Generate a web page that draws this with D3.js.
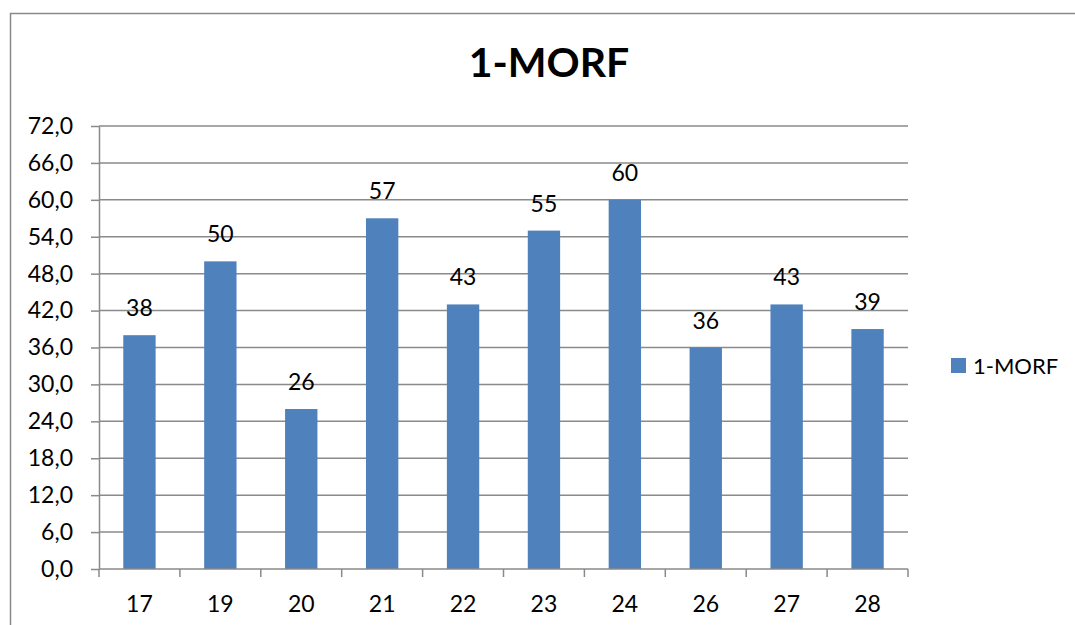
<!DOCTYPE html>
<html>
<head>
<meta charset="utf-8">
<script src="https://cdn.jsdelivr.net/npm/d3@7"></script>
<style>
  html, body { margin: 0; padding: 0; background: #fff; }
  svg { display: block; }
  text { font-family: Lato, "Open Sans", sans-serif; fill: #000; }
</style>
</head>
<body>
<script>
// Chart data
const categories = ["17", "19", "20", "21", "22", "23", "24", "26", "27", "28"];
const values = [38, 50, 26, 57, 43, 55, 60, 36, 43, 39];
const seriesName = "1-MORF";
const yTicks = [0, 6, 12, 18, 24, 30, 36, 42, 48, 54, 60, 66, 72];

const W = 1075, H = 625;
const plot = { left: 99, right: 908, top: 126, bottom: 569 };
const barColor = "#4F81BD";
const gridColor = "#8a8a8a";
const labelSize = 23;

const svg = d3.select("body").append("svg")
  .attr("width", W).attr("height", H);

// Outer chart frame
svg.append("rect")
  .attr("x", 10.5).attr("y", 13.5)
  .attr("width", 1100).attr("height", 700)
  .attr("fill", "#fff")
  .attr("stroke", "#8a8a8a").attr("stroke-width", 1.5);

const x = d3.scaleBand()
  .domain(categories)
  .range([plot.left, plot.right])
  .paddingInner(0.6).paddingOuter(0.3);

const y = d3.scaleLinear()
  .domain([0, 72])
  .range([plot.bottom, plot.top]);

const fmt = d => d.toFixed(1).replace(".", ",");

// Horizontal gridlines
svg.append("g")
  .selectAll("line")
  .data(yTicks.filter(t => t > 0))
  .join("line")
  .attr("x1", plot.left).attr("x2", plot.right)
  .attr("y1", d => y(d)).attr("y2", d => y(d))
  .attr("stroke", gridColor).attr("stroke-width", 1.5);

// Y axis
const yAxis = svg.append("g")
  .attr("transform", `translate(${plot.left},0)`)
  .call(d3.axisLeft(y).tickValues(yTicks).tickFormat(fmt).tickSize(8).tickSizeOuter(0).tickPadding(18));
yAxis.select(".domain").attr("stroke", gridColor).attr("stroke-width", 1.5);
yAxis.selectAll(".tick line").attr("stroke", gridColor).attr("stroke-width", 1.5);
yAxis.selectAll(".tick text")
  .attr("font-size", labelSize).attr("font-family", "Lato, sans-serif").attr("fill", "#000");

// Bars
svg.append("g")
  .selectAll("rect")
  .data(values)
  .join("rect")
  .attr("x", (d, i) => x(categories[i]))
  .attr("width", x.bandwidth())
  .attr("y", d => y(d))
  .attr("height", d => y(0) - y(d))
  .attr("fill", barColor);

// X axis with boundary ticks between categories
const boundaries = d3.range(categories.length + 1).map(i => plot.left + i * (plot.right - plot.left) / categories.length);
const xg = svg.append("g");
xg.append("line")
  .attr("x1", plot.left).attr("x2", plot.right)
  .attr("y1", plot.bottom).attr("y2", plot.bottom)
  .attr("stroke", gridColor).attr("stroke-width", 1.5);
xg.selectAll("line.tk")
  .data(boundaries)
  .join("line")
  .attr("class", "tk")
  .attr("x1", d => d).attr("x2", d => d)
  .attr("y1", plot.bottom).attr("y2", plot.bottom + 8)
  .attr("stroke", gridColor).attr("stroke-width", 1.5);
xg.selectAll("text")
  .data(categories)
  .join("text")
  .attr("x", d => x(d) + x.bandwidth() / 2)
  .attr("y", 612)
  .attr("text-anchor", "middle")
  .attr("font-size", labelSize)
  .text(d => d);

// Value labels
svg.append("g")
  .selectAll("text")
  .data(values)
  .join("text")
  .attr("x", (d, i) => x(categories[i]) + x.bandwidth() / 2)
  .attr("y", d => y(d) - 19)
  .attr("text-anchor", "middle")
  .attr("font-size", labelSize)
  .text(d => d);

// Title
svg.append("text")
  .attr("x", 549).attr("y", 77)
  .attr("text-anchor", "middle")
  .attr("font-size", 41)
  .attr("font-weight", 700)
  .text(seriesName);

// Legend
const lg = svg.append("g").attr("transform", "translate(951,358)");
lg.append("rect").attr("width", 15).attr("height", 15).attr("fill", barColor);
lg.append("text")
  .attr("x", 22).attr("y", 15.5)
  .attr("font-size", 22)
  .text(seriesName);
</script>
</body>
</html>
